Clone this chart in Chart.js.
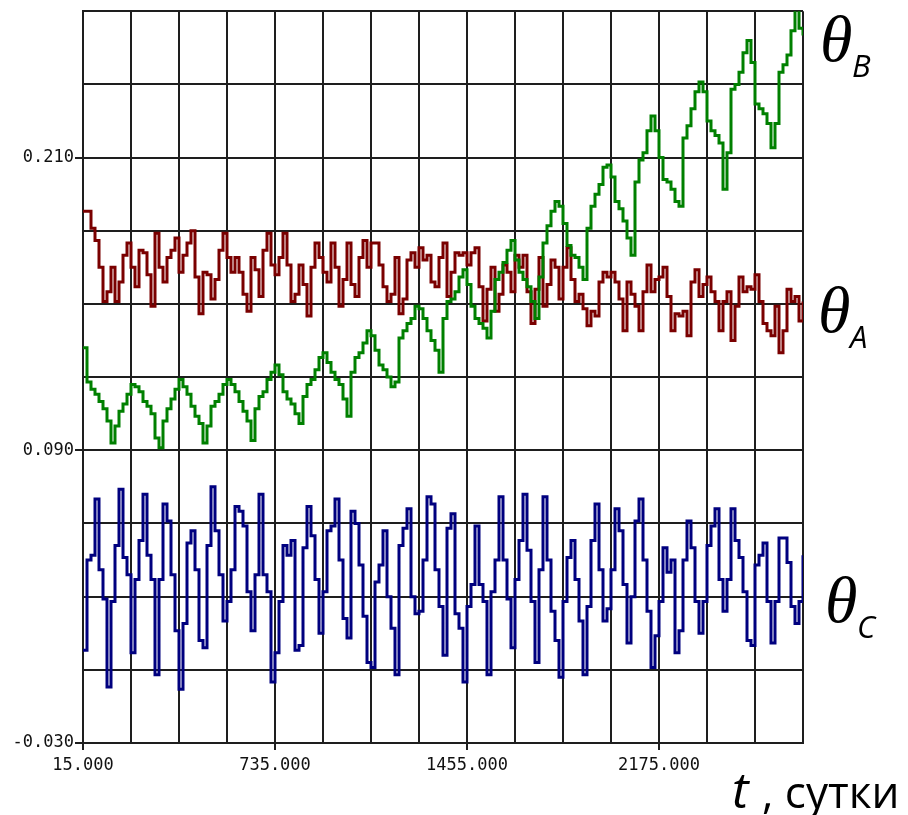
<!DOCTYPE html>
<html lang="ru">
<head>
    <meta charset="UTF-8">
    <title>θA, θB, θC</title>
    <script src="https://cdn.jsdelivr.net/npm/chart.js"></script>
    <style>
        body { margin: 0; background: #ffffff; }
        #wrap { width: 908px; height: 815px; }
    </style>
</head>
<body>
    <div id="wrap">
        <canvas id="thetaChart" width="908" height="815"></canvas>
    </div>

    <script>
        // Time grid: samples every 15 days starting from day 15
        const T_START = 15;
        const T_STEP = 15;

        // Axis ticks
        const xTicks = { min: 15, max: 2715, step: 180 };
        const yTicks = { min: -0.03, max: 0.27, step: 0.03 };

        // θB (green)
        const thetaB = [
            0.132, 0.118, 0.115, 0.113, 0.110, 0.107, 0.102, 0.093, 0.100, 0.106,
            0.109, 0.113, 0.117, 0.116, 0.114, 0.110, 0.108, 0.105, 0.095, 0.091,
            0.102, 0.107, 0.111, 0.115, 0.119, 0.116, 0.113, 0.108, 0.104, 0.101,
            0.093, 0.100, 0.108, 0.110, 0.113, 0.117, 0.119, 0.117, 0.114, 0.110,
            0.106, 0.102, 0.094, 0.107, 0.112, 0.114, 0.119, 0.122, 0.125, 0.121,
            0.114, 0.111, 0.109, 0.105, 0.101, 0.112, 0.117, 0.119, 0.123, 0.128,
            0.130, 0.126, 0.122, 0.119, 0.117, 0.111, 0.104, 0.122, 0.128, 0.130,
            0.134, 0.139, 0.137, 0.131, 0.125, 0.123, 0.120, 0.116, 0.118, 0.136,
            0.139, 0.142, 0.144, 0.149, 0.148, 0.144, 0.139, 0.135, 0.131, 0.122,
            0.144, 0.151, 0.152, 0.155, 0.161, 0.164, 0.158, 0.149, 0.144, 0.142,
            0.140, 0.136, 0.147, 0.160, 0.163, 0.167, 0.172, 0.176, 0.168, 0.163,
            0.160, 0.157, 0.151, 0.144, 0.161, 0.175, 0.182, 0.188, 0.192, 0.190,
            0.183, 0.174, 0.170, 0.169, 0.165, 0.160, 0.181, 0.190, 0.195, 0.199,
            0.206, 0.207, 0.202, 0.192, 0.189, 0.184, 0.177, 0.170, 0.200, 0.209,
            0.212, 0.221, 0.227, 0.221, 0.210, 0.201, 0.200, 0.197, 0.192, 0.190,
            0.218, 0.223, 0.230, 0.237, 0.241, 0.237, 0.225, 0.221, 0.219, 0.216,
            0.197, 0.212, 0.238, 0.240, 0.245, 0.253, 0.258, 0.249, 0.232, 0.230,
            0.228, 0.224, 0.214, 0.224, 0.245, 0.248, 0.252, 0.262, 0.271, 0.263,
            0.260
        ];

        // θA (dark red)
        const thetaA = [
            0.188, 0.188, 0.181, 0.176, 0.165, 0.151, 0.155, 0.165, 0.151, 0.159,
            0.170, 0.175, 0.165, 0.157, 0.172, 0.171, 0.162, 0.149, 0.179, 0.165,
            0.159, 0.169, 0.172, 0.177, 0.163, 0.170, 0.175, 0.180, 0.161, 0.146,
            0.163, 0.162, 0.152, 0.160, 0.172, 0.179, 0.169, 0.163, 0.169, 0.163,
            0.154, 0.147, 0.169, 0.164, 0.153, 0.172, 0.179, 0.166, 0.162, 0.169,
            0.179, 0.166, 0.151, 0.154, 0.166, 0.158, 0.145, 0.165, 0.175, 0.169,
            0.163, 0.159, 0.175, 0.165, 0.149, 0.160, 0.175, 0.158, 0.153, 0.169,
            0.176, 0.165, 0.175, 0.175, 0.166, 0.157, 0.151, 0.154, 0.169, 0.146,
            0.152, 0.168, 0.171, 0.165, 0.173, 0.168, 0.170, 0.159, 0.157, 0.169,
            0.175, 0.153, 0.163, 0.171, 0.170, 0.171, 0.166, 0.171, 0.173, 0.157,
            0.143, 0.156, 0.165, 0.147, 0.154, 0.166, 0.163, 0.155, 0.170, 0.165,
            0.170, 0.155, 0.142, 0.156, 0.169, 0.149, 0.158, 0.168, 0.165, 0.152,
            0.165, 0.173, 0.160, 0.151, 0.154, 0.148, 0.141, 0.147, 0.145, 0.159,
            0.163, 0.161, 0.163, 0.159, 0.152, 0.139, 0.159, 0.154, 0.149, 0.139,
            0.155, 0.166, 0.155, 0.160, 0.161, 0.165, 0.153, 0.139, 0.146, 0.145,
            0.147, 0.137, 0.159, 0.164, 0.153, 0.158, 0.161, 0.155, 0.151, 0.139,
            0.151, 0.155, 0.135, 0.149, 0.161, 0.155, 0.157, 0.156, 0.162, 0.151,
            0.142, 0.139, 0.137, 0.149, 0.130, 0.139, 0.156, 0.151, 0.153, 0.143,
            0.151
        ];

        // θC (navy)
        const thetaC = [
            0.008, 0.045, 0.047, 0.070, 0.041, 0.029, -0.007, 0.028, 0.051, 0.074,
            0.046, 0.039, 0.007, 0.037, 0.053, 0.072, 0.047, 0.037, -0.002, 0.037,
            0.068, 0.061, 0.039, 0.016, -0.008, 0.019, 0.052, 0.057, 0.041, 0.012,
            0.009, 0.051, 0.075, 0.057, 0.039, 0.020, 0.028, 0.041, 0.067, 0.065,
            0.059, 0.032, 0.016, 0.039, 0.072, 0.039, 0.032, -0.005, 0.007, 0.028,
            0.051, 0.047, 0.053, 0.008, 0.010, 0.050, 0.067, 0.055, 0.037, 0.015,
            0.032, 0.057, 0.059, 0.070, 0.045, 0.021, 0.013, 0.065, 0.060, 0.043,
            0.022, 0.003, 0.001, 0.036, 0.043, 0.057, 0.030, 0.017, -0.002, 0.051,
            0.058, 0.066, 0.030, 0.023, 0.024, 0.045, 0.071, 0.068, 0.041, 0.026,
            0.006, 0.058, 0.064, 0.023, 0.017, -0.005, 0.026, 0.035, 0.059, 0.035,
            0.028, -0.002, 0.032, 0.045, 0.071, 0.045, 0.029, 0.009, 0.037, 0.053,
            0.072, 0.049, 0.028, 0.003, 0.041, 0.071, 0.045, 0.024, 0.012, -0.003,
            0.028, 0.046, 0.053, 0.037, 0.020, -0.002, 0.026, 0.053, 0.068, 0.041,
            0.020, 0.025, 0.041, 0.066, 0.057, 0.035, 0.011, 0.030, 0.061, 0.070,
            0.045, 0.024, 0.001, 0.014, 0.028, 0.050, 0.040, 0.045, 0.007, 0.016,
            0.045, 0.061, 0.050, 0.028, 0.015, 0.028, 0.051, 0.059, 0.066, 0.037,
            0.024, 0.037, 0.066, 0.053, 0.046, 0.032, 0.012, 0.010, 0.043, 0.047,
            0.052, 0.028, 0.011, 0.028, 0.054, 0.054, 0.044, 0.026, 0.019, 0.028,
            0.047
        ];

        const days = thetaA.map((_, i) => T_START + i * T_STEP);
        const toPoints = arr => arr.map((v, i) => ({ x: days[i], y: v }));

        const series = [
            { data: thetaB, color: '#008000' },
            { data: thetaA, color: '#7a0000' },
            { data: thetaC, color: '#00007f' }
        ];

        // Greek labels next to the curves and the axis caption
        const captions = {
            id: 'captions',
            afterDraw(chart) {
                const c = chart.ctx;
                c.save();
                c.fillStyle = '#000';
                c.textBaseline = 'alphabetic';
                c.textAlign = 'left';

                const theta = (x, y, sub) => {
                    c.font = 'italic 66px "Liberation Serif"';
                    c.fillText('\u03B8', x, y);
                    c.font = 'italic 31px "Open Sans"';
                    c.fillText(sub, x + 32, y + 16);
                };
                theta(820, 61, 'B');
                theta(818, 332, 'A');
                theta(825, 622, 'C');

                c.font = 'italic 50px "Open Sans"';
                c.fillText('t', 732, 808);
                c.font = '44px "Open Sans"';
                c.fillText(', сутки', 762, 808);
                c.restore();
            }
        };

        const gridColor = '#1e1e1e';

        new Chart(document.getElementById('thetaChart'), {
            type: 'line',
            data: {
                datasets: series.map(s => ({
                    data: toPoints(s.data),
                    borderColor: s.color,
                    borderWidth: 3,
                    borderJoinStyle: 'miter',
                    stepped: true,
                    pointRadius: 0,
                    fill: false
                }))
            },
            options: {
                responsive: false,
                animation: false,
                layout: { padding: { top: 8, right: 105, bottom: 0, left: 0 } },
                plugins: {
                    legend: { display: false },
                    tooltip: { enabled: false }
                },
                scales: {
                    x: {
                        type: 'linear',
                        min: xTicks.min,
                        max: xTicks.max,
                        afterFit: scale => { scale.height = 72; },
                        border: { color: gridColor, width: 2 },
                        grid: {
                            color: gridColor,
                            lineWidth: 2,
                            tickLength: 7,
                            tickColor: ctx => ctx.index % 4 === 0 ? gridColor : 'rgba(0,0,0,0)'
                        },
                        ticks: {
                            stepSize: xTicks.step,
                            autoSkip: false,
                            maxRotation: 0,
                            padding: 5,
                            color: '#111',
                            font: { family: '"DejaVu Sans Mono"', size: 17 },
                            callback: (v, i) => (i % 4 === 0 && v < xTicks.max) ? v.toFixed(3) : ''
                        }
                    },
                    y: {
                        min: yTicks.min,
                        max: yTicks.max,
                        afterFit: scale => { scale.width = 83; },
                        border: { color: gridColor, width: 2 },
                        grid: {
                            color: gridColor,
                            lineWidth: 2,
                            tickLength: 8,
                            tickColor: ctx => ctx.index % 4 === 0 ? gridColor : 'rgba(0,0,0,0)'
                        },
                        ticks: {
                            stepSize: yTicks.step,
                            autoSkip: false,
                            padding: 1,
                            color: '#111',
                            font: { family: '"DejaVu Sans Mono"', size: 17 },
                            callback: (v, i) => (i % 4 === 0 && i < 10) ? v.toFixed(3) : ''
                        }
                    }
                }
            },
            plugins: [captions]
        });
    </script>
</body>
</html>
